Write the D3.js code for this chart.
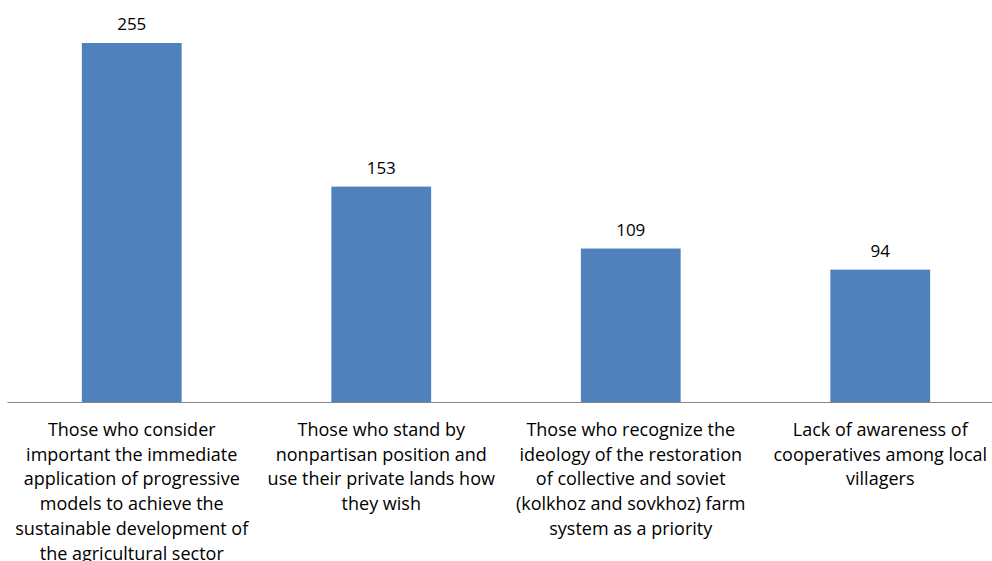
<!DOCTYPE html>
<html>
<head>
<meta charset="utf-8">
<script src="https://cdn.jsdelivr.net/npm/d3@7"></script>
<style>
  body { margin: 0; background: #fff; }
  svg { display: block; }
</style>
</head>
<body>
<svg id="chart" width="992" height="561"></svg>
<script>
// categories, split into the lines shown under each bar
const categories = ["c1", "c2", "c3", "c4"];
const category_lines = [
  ["Those who consider", "important the immediate", "application of progressive", "models to achieve the", "sustainable development of", "the agricultural sector"],
  ["Those who stand by", "nonpartisan position and", "use their private lands how", "they wish"],
  ["Those who recognize the", "ideology of the restoration", "of collective and soviet", "(kolkhoz and sovkhoz) farm", "system as a priority"],
  ["Lack of awareness of", "cooperatives among local", "villagers"]
];
const values = [255, 153, 109, 94];

const svg = d3.select("#chart");
const font = "'Open Sans', sans-serif";

const baseline = 402;
const x = d3.scaleBand()
    .domain(categories)
    .range([7, 1005])
    .padding(0);

const y = d3.scaleLinear()
    .domain([0, 255])
    .range([baseline, 43]);

const barW = x.bandwidth() * 0.4;

// bars
svg.selectAll("rect.bar")
  .data(values)
  .enter()
    .append("rect")
    .attr("class", "bar")
    .attr("x", (d, i) => x(categories[i]) + (x.bandwidth() - barW) / 2)
    .attr("y", d => y(d))
    .attr("width", barW)
    .attr("height", d => baseline - y(d))
    .style("fill", "#4F81BD");

// value labels
svg.selectAll("text.val")
  .data(values)
  .enter()
    .append("text")
    .attr("class", "val")
    .text(d => d)
    .attr("x", (d, i) => x(categories[i]) + x.bandwidth() / 2)
    .attr("y", d => y(d) - 13)
    .attr("text-anchor", "middle")
    .attr("font-family", font)
    .attr("font-size", 17)
    .attr("fill", "#000");

// axis line
const xAxis = d3.axisBottom(x).tickSize(0).tickFormat("");
const axis_g = svg.append("g")
    .attr("transform", `translate(0, ${baseline})`)
    .call(xAxis);
axis_g.select(".domain").attr("stroke", "#868686").attr("stroke-width", 1.2);

// category labels
const label_g = svg.append("g");
category_lines.forEach((lines, i) => {
  const t = label_g.append("text")
      .attr("x", x(categories[i]) + x.bandwidth() / 2)
      .attr("y", 436)
      .attr("text-anchor", "middle")
      .attr("font-family", font)
      .attr("font-size", 18)
      .attr("fill", "#000");
  lines.forEach((line, j) => {
    t.append("tspan")
      .attr("x", x(categories[i]) + x.bandwidth() / 2)
      .attr("dy", j === 0 ? 0 : 24.7)
      .text(line);
  });
});
</script>
</body>
</html>
